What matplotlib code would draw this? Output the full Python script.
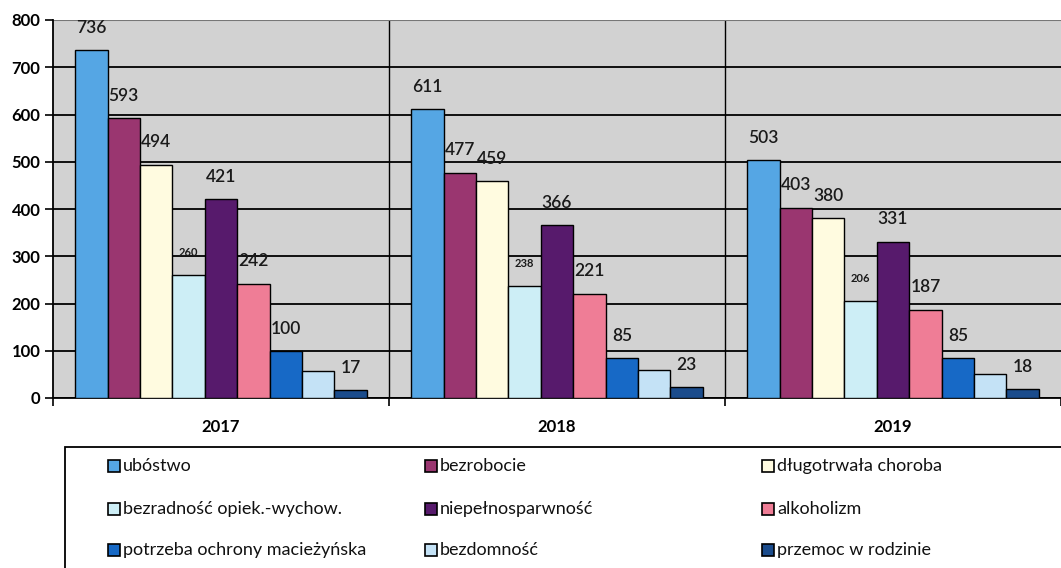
import matplotlib
matplotlib.use("Agg")
import matplotlib.pyplot as plt
import numpy as np
from matplotlib.patches import Rectangle

plt.rcParams['font.family'] = ['Lato', 'DejaVu Sans']

years = ["2017", "2018", "2019"]
series = ["ubóstwo", "bezrobocie", "długotrwała choroba",
          "bezradność opiek.-wychow.", "niepełnosparwność", "alkoholizm",
          "potrzeba ochrony macieżyńska", "bezdomność", "przemoc w rodzinie"]
ubostwo = [736, 611, 503]
bezrobocie = [593, 477, 403]
choroba = [494, 459, 380]
bezradnosc = [260, 238, 206]
niepelnosprawnosc = [421, 366, 331]
alkoholizm = [242, 221, 187]
ochrona = [100, 85, 85]
bezdomnosc = [58, 60, 51]
przemoc = [17, 23, 18]
values = [ubostwo, bezrobocie, choroba, bezradnosc, niepelnosprawnosc,
          alkoholizm, ochrona, bezdomnosc, przemoc]
show_label = [True, True, True, True, True, True, True, False, True]
small_label = [False, False, False, True, False, False, False, False, False]

colors = ["#55a6e4", "#9a3670", "#fffbe0", "#cdeef6", "#571a6c",
          "#ef7d96", "#1769c6", "#c4e2f6", "#1b4c8c"]

W, H = 1061, 568
fig = plt.figure(figsize=(W/100, H/100), dpi=100)
ax = fig.add_axes([53/W, 1-398/H, 1-53/W, (398-20)/H])
ax.set_facecolor("#d2d2d2")

n = len(series)
bw = 0.0965
x = np.arange(len(years))
for i, (name, vals, col) in enumerate(zip(series, values, colors)):
    pos = x - bw*n/2 + bw*(i+0.5)
    ax.bar(pos, vals, width=bw, color=col, edgecolor="black", linewidth=1.0,
           zorder=3, label=name)
    if show_label[i]:
        for p, v in zip(pos, vals):
            ax.annotate(str(v), (p, v), xytext=(0, 16), textcoords="offset points",
                        ha="center", va="center",
                        fontsize=8 if small_label[i] else 12.5,
                        fontweight="bold" if small_label[i] else "semibold",
                        color="#1a1a1a", zorder=4)

ax.set_ylim(0, 800)
ax.set_xlim(-0.5, len(years)-0.5)
ax.set_yticks(np.arange(0, 801, 100))
ax.yaxis.grid(True, color="black", linewidth=1.3, zorder=1)
for sep in np.arange(0.5, len(years)-0.5, 1.0):
    ax.axvline(sep, color="black", linewidth=1.0, zorder=1)
ax.set_xticks(x)
ax.set_xticklabels(years, fontsize=12, fontweight="bold")
ax.set_xticks(np.arange(-0.5, len(years), 1.0), minor=True)
ax.tick_params(axis="x", which="major", length=0, pad=15)
ax.tick_params(axis="x", which="minor", length=6, width=1.2, direction="out")
ax.tick_params(axis="y", length=6, width=1.2, labelsize=12, pad=3)
for lab in ax.get_yticklabels():
    lab.set_fontweight("bold")
for s in ["top", "right"]:
    ax.spines[s].set_visible(False)
ax.spines["left"].set_linewidth(1.3)
ax.spines["bottom"].set_linewidth(1.3)
ax.axhline(800, color="#777777", linewidth=1.5, zorder=2)

# legend: framed box with 3x3 grid of entries (row-major order)
fig.add_artist(Rectangle((65/W, -0.05), (W-65+10)/W, (H-447)/H + 0.05,
                         transform=fig.transFigure, facecolor="white",
                         edgecolor="black", linewidth=1.3, zorder=1))
col_x = [108, 425, 762]
row_y = [466, 509, 550]
sq = 12
for k, (name, col) in enumerate(zip(series, colors)):
    r, c = divmod(k, 3)
    xp, yp = col_x[c], row_y[r]
    fig.add_artist(Rectangle((xp/W, 1-(yp+sq/2)/H), sq/W, sq/H,
                             transform=fig.transFigure, facecolor=col,
                             edgecolor="black", linewidth=1.2, zorder=2))
    fig.text((xp+sq+3)/W, 1-yp/H, name, ha="left", va="center",
             fontsize=13, color="#111111", zorder=3)

fig.savefig("out.png", dpi=100)
